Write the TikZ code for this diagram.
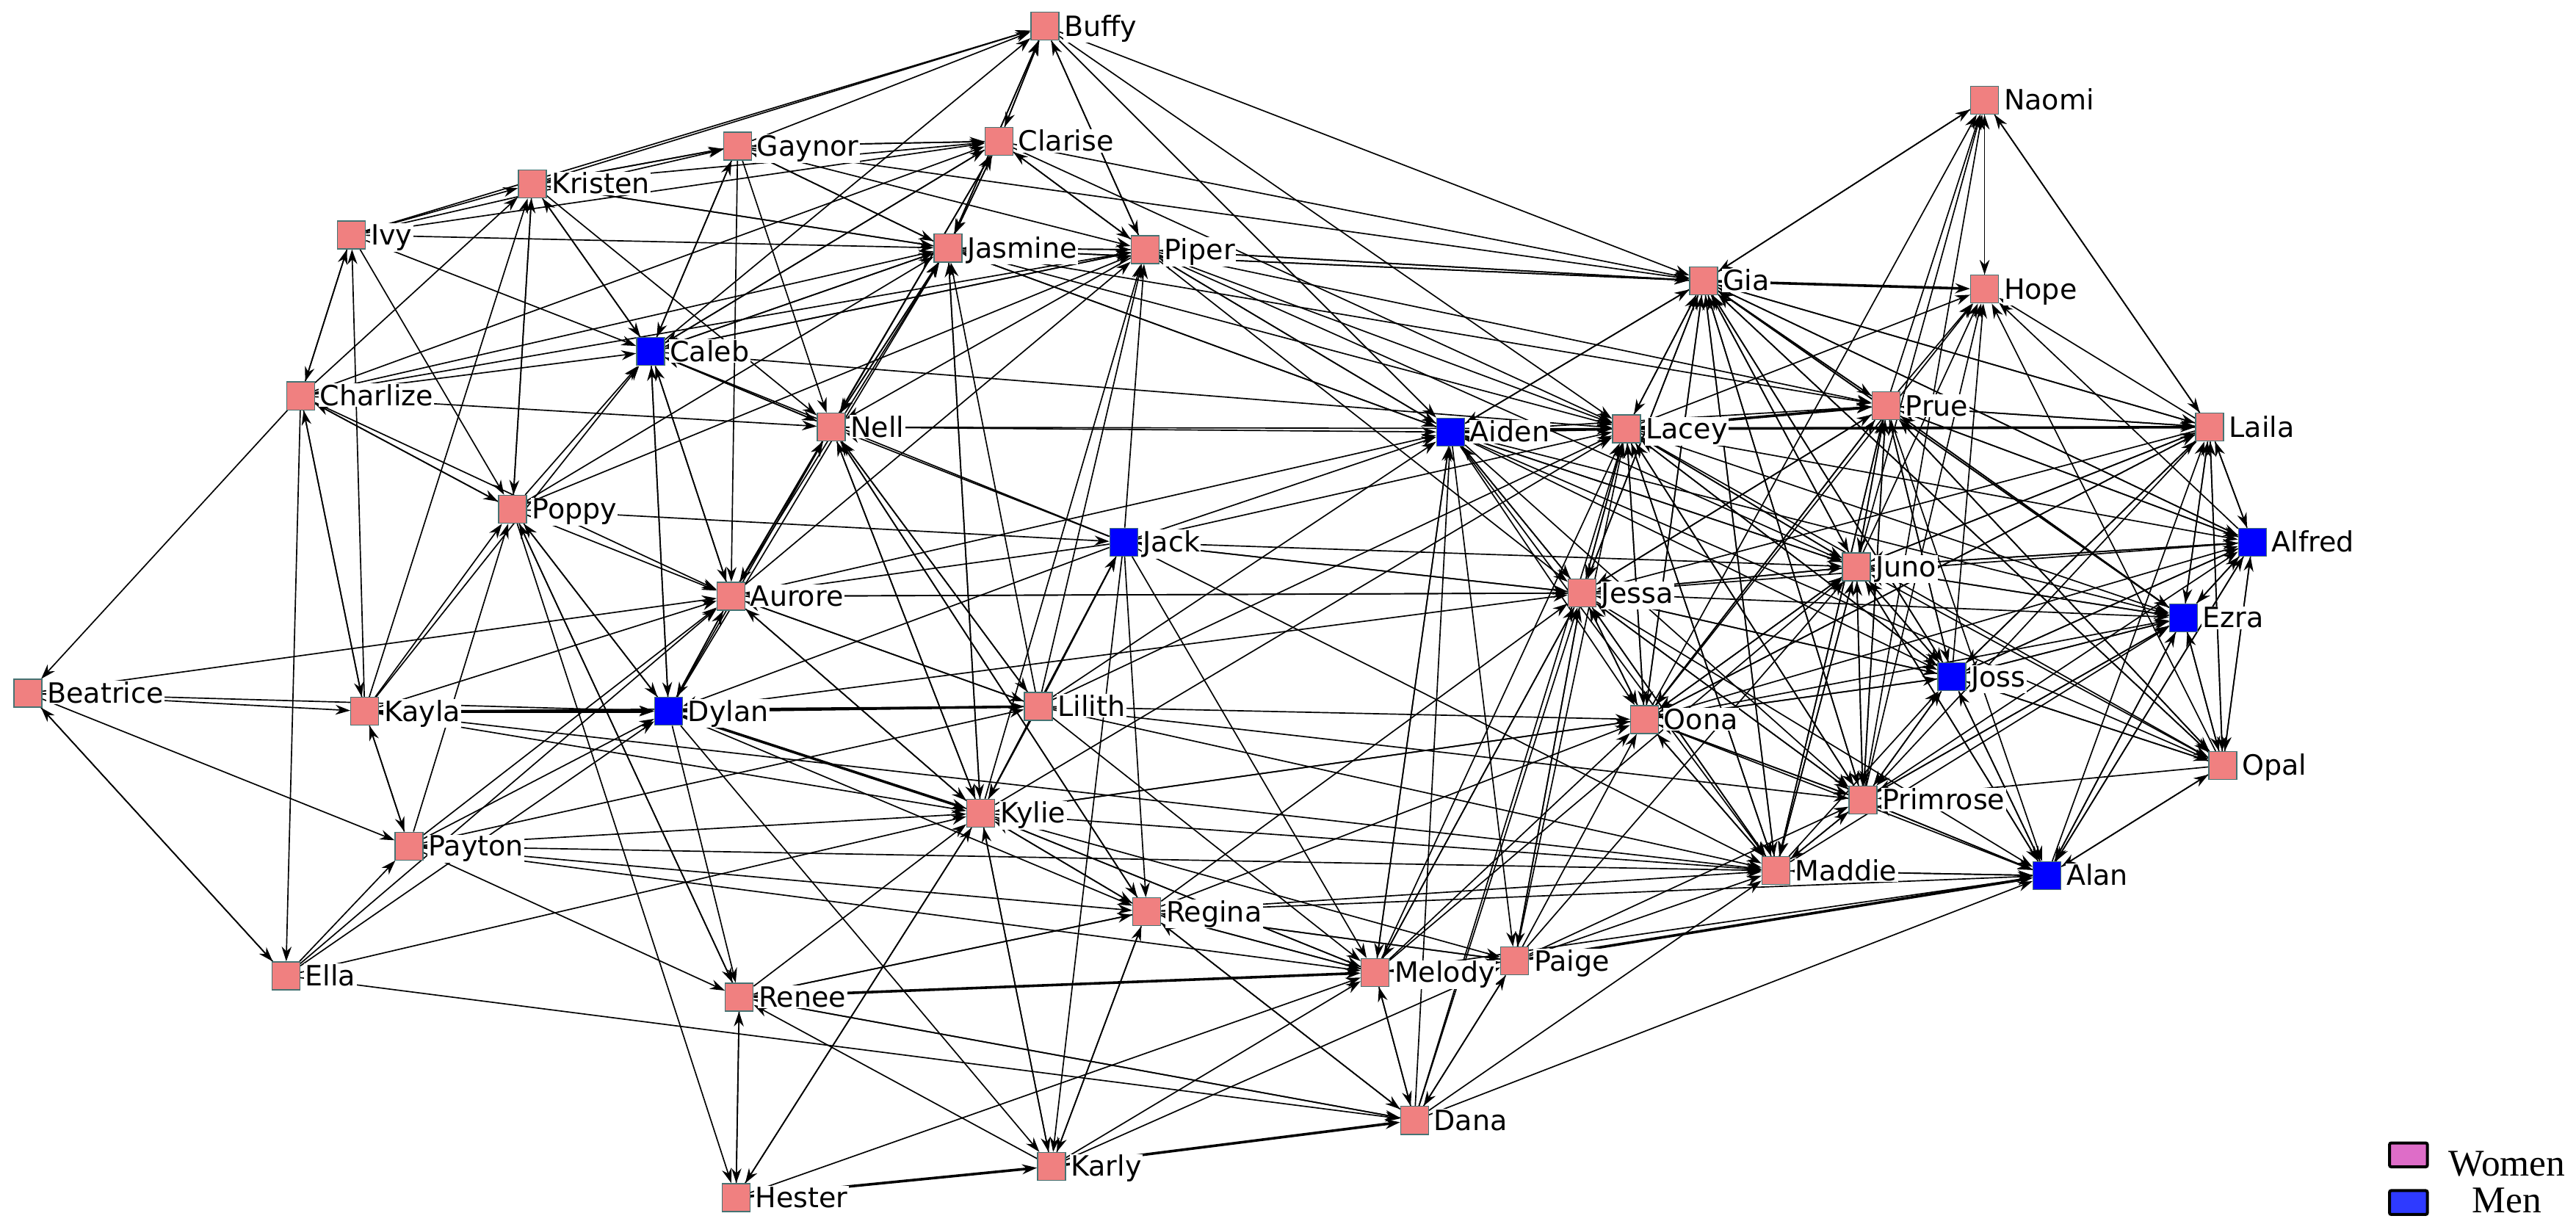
\documentclass[tikz,border=0pt]{standalone}
\usepackage{fontspec}
\setmainfont{DejaVu Sans}
\newfontfamily\legfont{Liberation Serif}
\usetikzlibrary{arrows.meta}
\pgfdeclarelayer{edges}
\pgfsetlayers{edges,main}
\definecolor{wfill}{RGB}{240,128,128}
\definecolor{mfill}{RGB}{0,0,255}
\definecolor{nedge}{RGB}{70,115,115}
\definecolor{legw}{RGB}{222,109,200}
\definecolor{legm}{RGB}{46,58,255}
\tikzset{
  w/.style={rectangle, minimum size=17pt, inner sep=0pt, fill=wfill, draw=nedge, line width=0.6pt},
  m/.style={rectangle, minimum size=17pt, inner sep=0pt, fill=mfill, draw=nedge, line width=0.6pt},
  lab/.style={font=\fontsize{17}{17}\selectfont, fill=white, inner sep=0.6pt, anchor=base west},
  e/.style={-{Stealth[length=9pt,width=6pt]}, line width=0.75pt, black},
  et/.style={e, line width=1.6pt},
  legbox/.style={rectangle, minimum width=23pt, minimum height=14.5pt, inner sep=0pt, draw=black, line width=1.8pt, rounded corners=1pt},
  legtxt/.style={font=\legfont\fontsize{23}{23}\selectfont, anchor=base, inner sep=0pt}
}
\begin{document}
\begin{tikzpicture}[x=1pt,y=-1pt]
\useasboundingbox (0,0) rectangle (1568,746.5);
\foreach \n/\x/\y/\t/\k in {
 buffy/636/16/Buffy/w, naomi/1208/61/Naomi/w, clarise/608/86/Clarise/w, gaynor/449/89/Gaynor/w,
 kristen/324/112/Kristen/w, ivy/214/143/Ivy/w, jasmine/577/151/Jasmine/w, piper/697/152/Piper/w,
 gia/1037/171/Gia/w, hope/1208/176/Hope/w, caleb/396/214/Caleb/m, charlize/183/241/Charlize/w,
 prue/1148/247/Prue/w, nell/506/260/Nell/w, aiden/883/263/Aiden/m, lacey/990/261/Lacey/w,
 laila/1345/260/Laila/w, poppy/312/310/Poppy/w, jack/684/330/Jack/m, alfred/1371/330/Alfred/m,
 juno/1130/345/Juno/w, aurore/445/363/Aurore/w, jessa/963/361/Jessa/w, ezra/1329/376/Ezra/m,
 joss/1188/412/Joss/m, beatrice/17/422/Beatrice/w, kayla/222/433/Kayla/w, dylan/407/433/Dylan/m,
 lilith/632/430/Lilith/w, oona/1001/438/Oona/w, opal/1353/466/Opal/w, primrose/1134/487/Primrose/w,
 kylie/597/495/Kylie/w, payton/249/515/Payton/w, maddie/1081/530/Maddie/w, alan/1246/533/Alan/m, regina/698/555/Regina/w,
 paige/922/585/Paige/w, melody/837/592/Melody/w, ella/174/594/Ella/w, renee/450/607/Renee/w,
 dana/861/682/Dana/w, karly/640/710/Karly/w, hester/448/729/Hester/w}
 { \node[\k] (\n) at (\x,\y) {}; }
\begin{pgfonlayer}{edges}
% ordinary ties
\foreach \a/\b in {
 kristen/buffy, kristen/gaynor, gaynor/kristen, kristen/clarise, kristen/jasmine, kristen/caleb, kristen/poppy, kristen/nell,
 ivy/kristen, ivy/buffy, ivy/gaynor, ivy/jasmine, ivy/caleb, ivy/poppy, ivy/clarise, ivy/charlize, charlize/ivy,
 gaynor/buffy, gaynor/clarise, gaynor/jasmine, gaynor/piper, gaynor/nell, gaynor/caleb, gaynor/aurore, gaynor/gia,
 clarise/buffy, buffy/clarise, clarise/jasmine, jasmine/clarise, clarise/piper, piper/clarise, clarise/nell, clarise/caleb, clarise/gaynor, clarise/gia, clarise/lacey,
 jasmine/buffy, jasmine/piper, piper/jasmine, jasmine/nell, nell/jasmine, jasmine/gia, jasmine/aiden, jasmine/lacey, jasmine/caleb, jasmine/kristen, jasmine/gaynor, jasmine/kylie, jasmine/prue,
 piper/buffy, piper/gia, piper/aiden, piper/lacey, piper/prue, piper/jessa, piper/nell, piper/caleb, piper/juno,
 buffy/gia, buffy/aiden, buffy/lacey, buffy/jasmine, buffy/piper,
 caleb/buffy, caleb/clarise, caleb/jasmine, caleb/piper, caleb/aurore, caleb/dylan, caleb/nell, caleb/kristen, caleb/gaynor, caleb/lacey,
 charlize/kristen, charlize/caleb, charlize/jasmine, charlize/piper, charlize/nell, charlize/poppy, charlize/kayla, charlize/ella, charlize/beatrice, charlize/aurore, charlize/clarise,
 nell/aiden, nell/kylie, nell/aurore, nell/regina, nell/caleb, nell/lacey, nell/lilith,
 poppy/kristen, poppy/caleb, poppy/jasmine, poppy/piper, poppy/charlize, poppy/aurore, poppy/dylan, poppy/hester, poppy/renee, poppy/jack,
 aurore/jasmine, aurore/nell, aurore/piper, aurore/caleb, aurore/jessa, aurore/aiden, aurore/lilith, aurore/kylie, aurore/dylan, aurore/clarise,
 kayla/kristen, kayla/charlize, kayla/poppy, kayla/aurore, kayla/payton, kayla/caleb, kayla/kylie, kayla/lilith, kayla/ivy, kayla/maddie,
 beatrice/kayla, beatrice/dylan, beatrice/aurore, beatrice/ella, beatrice/payton,
 dylan/aurore, dylan/caleb, dylan/jasmine, dylan/renee, dylan/karly, dylan/regina, dylan/poppy, dylan/nell, dylan/jessa,
 lilith/jasmine, lilith/piper, lilith/aiden, lilith/jack, lilith/dylan, lilith/aurore, lilith/nell, lilith/maddie, lilith/primrose, lilith/kylie, lilith/lacey, lilith/oona, lilith/melody,
 jack/aiden, jack/lacey, jack/jessa, jack/aurore, jack/dylan, jack/kylie, jack/regina, jack/melody, jack/karly, jack/piper, jack/nell, jack/caleb, jack/maddie, jack/juno,
 payton/kayla, payton/poppy, payton/dylan, payton/aurore, payton/kylie, payton/regina, payton/melody, payton/renee, payton/lilith, payton/maddie,
 ella/payton, ella/beatrice, ella/dylan, ella/kylie, ella/dana, ella/aurore,
 kylie/jasmine, kylie/nell, kylie/aurore, kylie/piper, kylie/regina, kylie/karly, kylie/melody, kylie/paige, kylie/dylan, kylie/hester, kylie/lacey, kylie/oona, kylie/maddie, kylie/jack,
 regina/kylie, regina/melody, regina/paige, regina/renee, regina/nell, regina/karly, regina/maddie, regina/jessa, regina/oona, regina/dana, regina/alan,
 renee/hester, renee/regina, renee/kylie, renee/dana, renee/poppy,
 hester/renee, hester/kylie, hester/melody,
 karly/kylie, karly/regina, karly/renee, karly/melody, karly/paige,
 dana/melody, dana/paige, dana/regina, dana/aiden, dana/lacey, dana/jessa, dana/alan, dana/renee, dana/maddie,
 melody/paige, melody/regina, melody/kylie, melody/jessa, melody/oona, melody/juno, melody/alan, melody/aiden, melody/dana, melody/lacey,
 paige/melody, paige/regina, paige/oona, paige/jessa, paige/lacey, paige/primrose, paige/juno, paige/dana, paige/maddie,
 lacey/aiden, aiden/gia, aiden/jessa, aiden/juno, aiden/prue, aiden/oona, aiden/primrose, aiden/maddie, aiden/melody, aiden/paige, aiden/joss, aiden/ezra, aiden/opal, aiden/piper, aiden/jasmine,
 lacey/gia, lacey/jessa, lacey/juno, lacey/oona, lacey/alfred, lacey/ezra, lacey/joss, lacey/primrose, lacey/maddie, lacey/hope, lacey/opal,
 gia/naomi, gia/prue, gia/lacey, gia/juno, gia/jessa, gia/oona, gia/primrose, gia/maddie, gia/joss, gia/ezra, gia/alfred, gia/laila, gia/aiden, gia/opal, gia/jasmine, gia/piper,
 prue/naomi, prue/hope, prue/gia, prue/laila, prue/juno, prue/jessa, prue/lacey, prue/oona, prue/primrose, prue/maddie, prue/joss, prue/ezra, prue/alfred, prue/opal, prue/alan,
 naomi/hope, hope/naomi, naomi/laila, laila/naomi, naomi/gia,
 laila/hope, laila/prue, laila/gia, laila/alfred, laila/ezra, laila/juno, laila/jessa, laila/oona, laila/primrose, laila/joss, laila/opal, laila/lacey,
 juno/naomi, juno/hope, juno/gia, juno/prue, juno/lacey, juno/laila, juno/alfred, juno/ezra, juno/jessa, juno/oona, juno/primrose, juno/maddie, juno/joss, juno/alan, juno/aiden,
 jessa/lacey, jessa/aiden, jessa/juno, jessa/oona, jessa/joss, jessa/ezra, jessa/alfred, jessa/primrose, jessa/maddie, jessa/gia, jessa/prue, jessa/alan, jessa/aurore, jessa/jack, jessa/paige, jessa/melody,
 alfred/laila, alfred/ezra, alfred/opal, alfred/gia, alfred/prue, alfred/juno, alfred/alan, alfred/hope, alfred/joss,
 ezra/alfred, ezra/laila, ezra/opal, ezra/joss, ezra/juno, ezra/prue, ezra/gia, ezra/alan, ezra/primrose,
 joss/ezra, joss/alfred, joss/juno, joss/prue, joss/gia, joss/hope, joss/laila, joss/oona, joss/jessa, joss/alan, joss/primrose, joss/opal, joss/lacey,
 oona/jessa, oona/lacey, oona/juno, oona/prue, oona/gia, oona/primrose, oona/maddie, oona/joss, oona/alfred, oona/ezra, oona/laila, oona/alan, oona/naomi, oona/hope, oona/kylie,
 opal/laila, opal/alfred, opal/ezra, opal/alan, opal/primrose, opal/joss, opal/juno, opal/gia, opal/prue, opal/hope,
 primrose/juno, primrose/prue, primrose/gia, primrose/jessa, primrose/oona, primrose/lacey, primrose/joss, primrose/alan, primrose/maddie, primrose/ezra, primrose/alfred, primrose/hope, primrose/naomi,
 maddie/primrose, maddie/juno, maddie/oona, maddie/jessa, maddie/alan, maddie/lacey, maddie/gia, maddie/prue, maddie/ezra, maddie/joss,
 alan/ezra, alan/alfred, alan/opal, alan/joss, alan/laila, alan/primrose, alan/juno, alan/maddie}
 { \draw[e] (\a) -- (\b); }
% strong ties
\foreach \a/\b in {kayla/dylan, dylan/lilith, dylan/kylie, renee/melody, hester/karly, karly/dana, paige/alan, aiden/lacey, lacey/prue, lacey/laila, gia/hope}
 { \draw[et] (\a) -- (\b); }
\end{pgfonlayer}
% labels
\foreach \n/\x/\y/\t in {
 buffy/636/16/Buffy, naomi/1208/61/Naomi, clarise/608/86/Clarise, gaynor/449/89/Gaynor,
 kristen/324/112/Kristen, ivy/214/143/Ivy, jasmine/577/151/Jasmine, piper/697/152/Piper,
 gia/1037/171/Gia, hope/1208/176/Hope, caleb/396/214/Caleb, charlize/183/241/Charlize,
 prue/1148/247/Prue, nell/506/260/Nell, aiden/883/263/Aiden, lacey/990/261/Lacey,
 laila/1345/260/Laila, poppy/312/310/Poppy, jack/684/330/Jack, alfred/1371/330/Alfred,
 juno/1130/345/Juno, aurore/445/363/Aurore, jessa/963/361/Jessa, ezra/1329/376/Ezra,
 joss/1188/412/Joss, beatrice/17/422/Beatrice, kayla/222/433/Kayla, dylan/407/433/Dylan,
 lilith/632/430/Lilith, oona/1001/438/Oona, opal/1353/466/Opal, primrose/1134/487/Primrose,
 kylie/597/495/Kylie, payton/249/515/Payton, maddie/1081/530/Maddie, alan/1246/533/Alan, regina/698/555/Regina,
 paige/922/585/Paige, melody/837/592/Melody, ella/174/594/Ella, renee/450/607/Renee,
 dana/861/682/Dana, karly/640/710/Karly, hester/448/729/Hester}
 { \node[lab] (l-\n) at (\x+11,\y+6) {\t}; }
% legend
\node[legbox, fill=legw] (legW) at (1466,703) {};
\node[legbox, fill=legm] (legM) at (1466,732) {};
\node[legtxt] (legWt) at (1526,716) {Women};
\node[legtxt] (legMt) at (1526,738) {Men};
\end{tikzpicture}
\end{document}
